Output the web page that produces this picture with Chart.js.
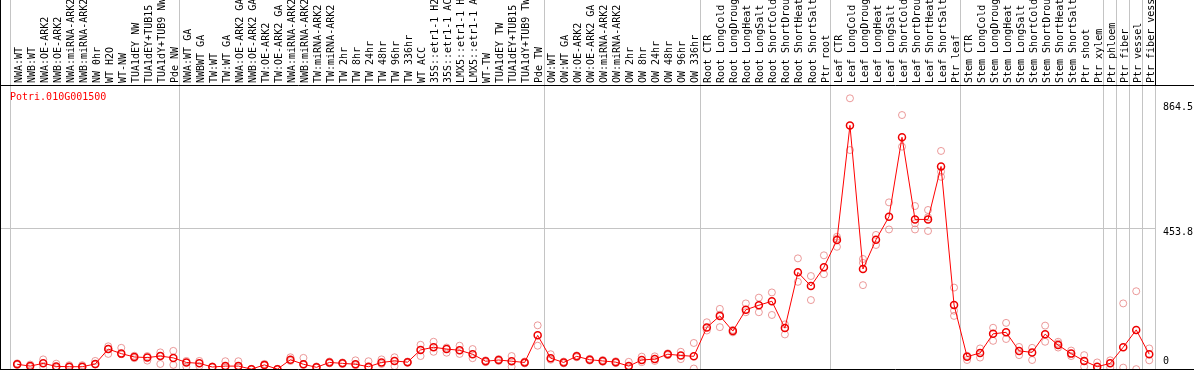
<!DOCTYPE html>
<html>
<head>
<meta charset="utf-8">
<script src="https://cdn.jsdelivr.net/npm/chart.js@4.4.1/dist/chart.umd.min.js"></script>
<style>
  html, body { margin: 0; padding: 0; background: #fff; }
  canvas { display: block; }
</style>
</head>
<body>
<canvas id="chart" width="1194" height="370"></canvas>
<script>
const geneId = 'Potri.010G001500';

const labels = [
  'NWA:WT', 'NWB:WT', 'NWA:OE-ARK2', 'NWB:OE-ARK2', 'NWA:miRNA-ARK2', 'NWB:miRNA-ARK2', 'NW 0hr', 'WT H2O', 'WT-NW',
  'TUA1dEY NW', 'TUA1dEY+TUB15', 'TUA1dY+TUB9 NW', 'Pde NW',
  'NWA:WT GA', 'NWBWT GA', 'TW:WT', 'TW:WT GA', 'NWA:OE-ARK2 GA', 'NWB:OE-ARK2 GA', 'TW:OE-ARK2', 'TW:OE-ARK2 GA',
  'NWA:miRNA-ARK2', 'NWB:miRNA-ARK2', 'TW:miRNA-ARK2', 'TW:miRNA-ARK2', 'TW 2hr', 'TW 8hr', 'TW 24hr', 'TW 48hr',
  'TW 96hr', 'TW 336hr', 'WT ACC', '35S::etr1-1 H2', '35S::etr1-1 AC', 'LMX5::etr1-1 H', 'LMX5::etr1-1 A', 'WT-TW',
  'TUA1dEY TW', 'TUA1dEY+TUB15', 'TUA1dY+TUB9 TW', 'Pde TW',
  'OW:WT', 'OW:WT GA', 'OW:OE-ARK2', 'OW:OE-ARK2 GA', 'OW:miRNA-ARK2', 'OW:miRNA-ARK2', 'OW 2hr', 'OW 8hr', 'OW 24hr',
  'OW 48hr', 'OW 96hr', 'OW 336hr',
  'Root CTR', 'Root LongCold', 'Root LongDroug', 'Root LongHeat', 'Root LongSalt', 'Root ShortCold', 'Root ShortDrou',
  'Root ShortHeat', 'Root ShortSalt', 'Ptr root',
  'Leaf CTR', 'Leaf LongCold', 'Leaf LongDroug', 'Leaf LongHeat', 'Leaf LongSalt', 'Leaf ShortCold', 'Leaf ShortDrou',
  'Leaf ShortHeat', 'Leaf ShortSalt', 'Ptr leaf',
  'Stem CTR', 'Stem LongCold', 'Stem LongDroug', 'Stem LongHeat', 'Stem LongSalt', 'Stem ShortCold', 'Stem ShortDrou',
  'Stem ShortHeat', 'Stem ShortSalt', 'Ptr shoot', 'Ptr xylem',
  'Ptr phloem', 'Ptr fiber', 'Ptr vessel', 'Ptr fiber vess'
];

// first category of each group (a grey separator is drawn before it)
const groupStarts = [0, 13, 41, 53, 63, 73, 84, 85, 86, 87];

const means = [
  7, 1, 10, 0, -1, -1, 8, 57, 42, 31, 29, 34, 28,
  13, 10, -2, 1, 1, -9, 5, -9, 22, 7, -3, 13, 10, 7, -1, 13, 18, 14, 54, 63, 57, 53, 40, 17, 21, 17, 13, 102,
  27, 13, 33, 22, 18, 14, 1, 21, 24, 40, 36, 33,
  128, 166, 116, 186, 201, 214, 126, 309, 264, 326,
  415, 792, 320, 416, 492, 753, 483, 483, 657, 202,
  32, 44, 107, 112, 51, 46, 106, 70, 42, 18, -1,
  10, 63, 120, 40
];

const rep1 = [
  10, 6, 23, 9, 4, 4, 18, 66, 61, 35, 34, 46, 51,
  18, 18, 0, 17, 17, -8, 8, -8, 30, 28, 0, 16, 13, 20, 17, 23, 30, 16, 71, 81, 62, 68, 57, 20, 24, 34, 16, 135,
  40, 16, 36, 25, 21, 17, 15, 32, 33, 43, 48, 77,
  145, 189, 120, 207, 226, 243, 138, 355, 297, 365,
  426, 881, 353, 432, 539, 826, 527, 514, 708, 259,
  35, 59, 127, 143, 64, 61, 134, 81, 52, 37, 13,
  20, 207, 247, 59
];

const rep2 = [
  5, -2, -3, -4, -3, -3, 6, 41, 40, 27, 19, 8, 5,
  -1, 1, -3, -3, -3, -9, 3, -9, 18, 5, -4, 10, 8, 4, -3, 8, 1, 12, 34, 48, 45, 41, 27, 14, 18, -1, 10, 68,
  22, 10, 30, 19, 15, 11, -3, 14, 18, 37, 24, -7,
  118, 129, 112, 178, 178, 169, 105, 278, 218, 303,
  393, 711, 267, 399, 450, 722, 450, 445, 623, 166,
  21, 29, 84, 90, 37, 21, 81, 62, 34, -1, -9,
  -4, -4, -9, 20
];

const rep3 = [
  null, null, null, null, null, null, null, 57, null, null, null, 34, null,
  null, null, null, null, null, null, null, null, null, null, null, null, null, null, null, null, null, null, null, null, null, null, null, null, null, null, null, null,
  null, null, null, null, null, null, null, null, null, null, null, null,
  null, 170, null, null, null, null, null, null, null, null,
  420, null, 340, null, null, null, 470, 490, 640, 183,
  null, null, null, null, null, null, null, 75, null, null, null,
  null, null, null, null
];

const yTicks = [0, 453.8, 864.5];

const toPoints = arr => arr.map((v, i) => ({ x: i, y: v })).filter(p => p.y !== null);

const monoFont = { family: '"DejaVu Sans Mono", monospace', size: 10 };
const gridGrey = '#c4c4c4';

const repStyle = {
  showLine: false,
  pointRadius: 3.5,
  pointBorderWidth: 1,
  pointBorderColor: 'rgba(228, 120, 120, 0.75)',
  pointBackgroundColor: 'rgba(0,0,0,0)',
};

const frame = {
  id: 'frame',
  afterDraw(chart) {
    const { ctx, chartArea, width } = chart;
    ctx.save();
    ctx.strokeStyle = '#000';
    ctx.lineWidth = 1;
    ctx.beginPath();
    ctx.moveTo(0.5, 0);
    ctx.lineTo(0.5, chartArea.bottom + 1);
    ctx.moveTo(0, chartArea.top + 0.5);
    ctx.lineTo(width, chartArea.top + 0.5);
    ctx.moveTo(0, chartArea.bottom + 0.5);
    ctx.lineTo(width, chartArea.bottom + 0.5);
    ctx.stroke();
    ctx.fillStyle = '#ff0000';
    ctx.font = '10px "DejaVu Sans Mono", monospace';
    ctx.textBaseline = 'middle';
    ctx.fillText(geneId, chartArea.left + 10, chartArea.top + 12.5);
    ctx.restore();
  }
};

new Chart(document.getElementById('chart'), {
  type: 'line',
  data: {
    datasets: [
      {
        data: toPoints(means),
        borderColor: '#ff0000',
        borderWidth: 1,
        pointRadius: 3.5,
        pointBorderWidth: 1.5,
        pointBorderColor: '#ee0000',
        pointBackgroundColor: 'rgba(0,0,0,0)',
        tension: 0,
      },
      { data: toPoints(rep1), ...repStyle },
      { data: toPoints(rep2), ...repStyle },
      { data: toPoints(rep3), ...repStyle },
    ]
  },
  options: {
    responsive: false,
    animation: false,
    devicePixelRatio: 1,
    layout: { autoPadding: false, padding: { left: 0, right: 0, top: 0, bottom: 1 } },
    plugins: {
      legend: { display: false },
      tooltip: { enabled: false },
    },
    scales: {
      x: {
        type: 'linear',
        position: 'top',
        min: -1.32,
        max: 87.52,
        afterBuildTicks: s => { s.ticks = labels.map((l, i) => ({ value: i })); },
        afterFit: s => {
          s.height = 85;
          s.paddingLeft = 0;
          s.paddingRight = 0;
        },
        border: { display: false },
        grid: {
          offset: true,
          tickLength: 85,
          color: ctx => (ctx.index === undefined || groupStarts.includes(ctx.index)) ? gridGrey : 'rgba(0,0,0,0)',
          tickColor: ctx => ctx.index === undefined ? '#000' : (groupStarts.includes(ctx.index) ? gridGrey : 'rgba(0,0,0,0)'),
        },
        ticks: {
          autoSkip: false,
          minRotation: 90,
          maxRotation: 90,
          padding: -83,
          labelOffset: 14,
          color: '#000',
          font: monoFont,
          callback: v => labels[v],
        },
      },
      y: {
        position: 'right',
        min: -8.54,
        max: 924.7,
        afterBuildTicks: s => { s.ticks = yTicks.map(v => ({ value: v })); },
        afterFit: s => {
          s.width = 38;
          s.paddingTop = 0;
          s.paddingBottom = 0;
        },
        border: { display: false },
        grid: {
          drawTicks: false,
          color: ctx => (ctx.tick && ctx.tick.value === 453.8) ? gridGrey : 'rgba(0,0,0,0)',
        },
        ticks: {
          padding: 7,
          color: '#000',
          font: { family: '"DejaVu Sans Mono", monospace', size: 10, lineHeight: 0.9 },
          callback: v => v === 0 ? ['0', ''] : ['', String(v)],
        },
      },
    },
  },
  plugins: [frame],
});
</script>
</body>
</html>
